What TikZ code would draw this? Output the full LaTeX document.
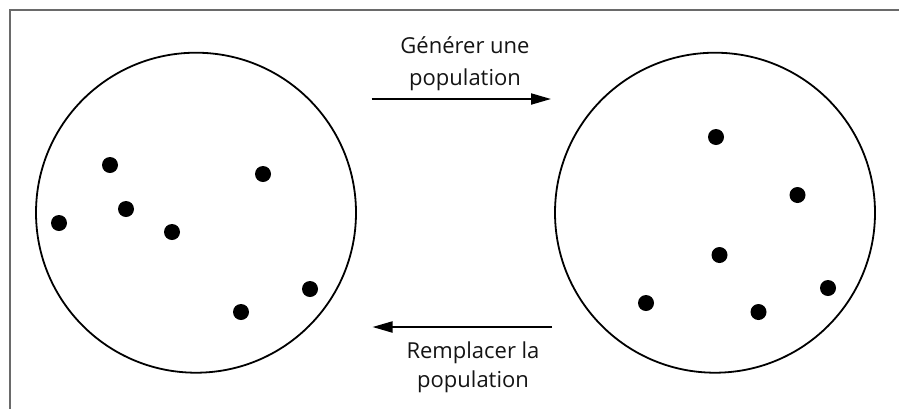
\documentclass[tikz,border=0pt]{standalone}
\usepackage{fontspec}
\setmainfont{Open Sans}
\usetikzlibrary{arrows.meta}
\definecolor{framegray}{HTML}{6A6A6A}
\tikzset{
  x=1pt, y=-1pt,
  popcircle/.style={draw=black, line width=1.8pt, circle, minimum size=320pt, inner sep=0pt},
  indiv/.style={fill=black, circle, minimum size=16pt, inner sep=0pt},
  flow/.style={line width=2pt, -{Triangle[length=20pt, width=11pt]}},
  lbl/.style={font=\fontsize{22}{30}\selectfont, anchor=base, inner sep=0pt, text=black!92}
}
\begin{document}
\begin{tikzpicture}
\useasboundingbox (0,0) rectangle (899,408);
\clip (0,0) rectangle (899,408);
\draw[framegray, line width=1.6pt] (10,10) rectangle (930,440);
\node[popcircle] (L) at (196,212.7) {};
\node[popcircle] (R) at (715,212.7) {};
% individuals, left population
\node[indiv] (l1) at (110,165) {};
\node[indiv] (l2) at (126,209) {};
\node[indiv] (l3) at (59,223) {};
\node[indiv] (l4) at (172,232) {};
\node[indiv] (l5) at (263,174) {};
\node[indiv] (l6) at (310,289) {};
\node[indiv] (l7) at (241,312) {};
% individuals, right population
\node[indiv] (r1) at (716,137) {};
\node[indiv] (r2) at (797.5,195) {};
\node[indiv] (r3) at (719.5,255) {};
\node[indiv] (r4) at (646,303) {};
\node[indiv] (r5) at (758.5,312) {};
\node[indiv] (r6) at (828,288) {};
% arrows
\coordinate (gA) at (371.5,99);
\coordinate (gB) at (551,99);
\coordinate (rA) at (552,327);
\coordinate (rB) at (372.5,327);
\draw[flow] (gA) -- (gB);
\draw[flow] (rA) -- (rB);
\node[lbl] (gen1) at (465,53.5) {Générer une};
\node[lbl] (gen2) at (465,85) {population};
\node[lbl] (rep1) at (473,358) {Remplacer la};
\node[lbl] (rep2) at (473,387) {population};
\end{tikzpicture}
\end{document}
